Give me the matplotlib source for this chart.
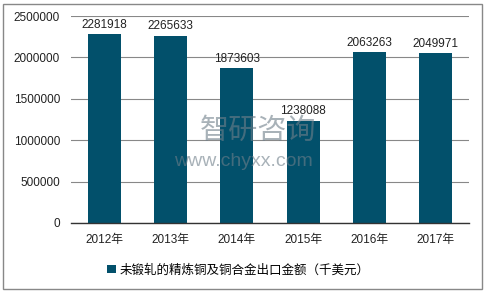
import matplotlib.pyplot as plt
from matplotlib.patches import Rectangle

years = ['2012年', '2013年', '2014年', '2015年', '2016年', '2017年']
values = [2281918, 2265633, 1873603, 1238088, 2063263, 2049971]
legend_label = '未锻轧的精炼铜及铜合金出口金额（千美元）'

plt.rcParams['font.family'] = ['Liberation Sans', 'Noto Sans CJK SC', 'DejaVu Sans']

bar_color = '#02506b'

fig = plt.figure(figsize=(4.87, 2.93), dpi=100)
ax = fig.add_axes([0.146, 0.239, 0.817, 0.706])

x = range(len(years))
ax.bar(x, values, width=0.5, color=bar_color, zorder=2, label=legend_label)
for i, v in enumerate(values):
    ax.text(i, v + 40000, str(v), ha='center', va='bottom', fontsize=8.5, color='#222222')

ax.set_ylim(0, 2500000)
ax.set_yticks(range(0, 2500001, 500000))
ax.ticklabel_format(axis='y', style='plain', useOffset=False)
ax.set_xlim(-0.5, len(years) - 0.5)
ax.set_xticks(list(x))
ax.set_xticklabels(years)
ax.tick_params(axis='both', length=0, labelsize=8.5, colors='#222222')
ax.tick_params(axis='x', pad=8)
ax.tick_params(axis='y', pad=8)
ax.grid(axis='y', color='#888888', linewidth=0.8, zorder=0)
for s in ['top', 'right', 'left']:
    ax.spines[s].set_visible(False)
ax.spines['bottom'].set_color('#333333')
ax.spines['bottom'].set_linewidth(1.0)

leg = fig.legend(loc='center', bbox_to_anchor=(0.49, 0.078), frameon=False,
                 fontsize=9, handlelength=0.7, handleheight=0.7, handletextpad=0.3)

# watermark
fig.text(0.53, 0.555, '智研咨询', fontsize=21, color='#6f7f8a', alpha=0.6,
         ha='center', va='center', zorder=5)
fig.text(0.50, 0.45, 'www.chyxx.com', fontsize=14, color='#6f7f8a', alpha=0.6,
         ha='center', va='center', zorder=5)

fig.patches.append(Rectangle((3 / 487, 4 / 293), 479 / 487, 285 / 293,
                             transform=fig.transFigure, fill=False,
                             edgecolor='#888888', linewidth=1.0))

fig.savefig('out.png', dpi=100)
